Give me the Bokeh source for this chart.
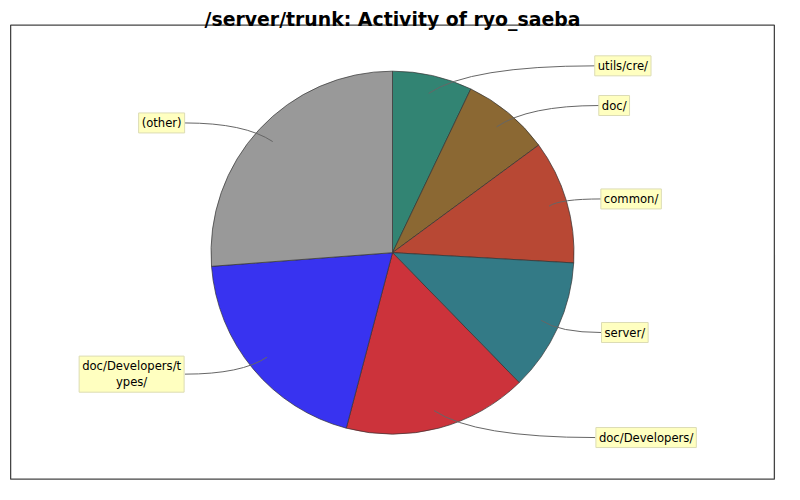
import numpy as np
from bokeh.plotting import figure
from bokeh.models import ColumnDataSource, Range1d
from bokeh.core.properties import value
from bokeh.embed import file_html
from bokeh.resources import INLINE

# ---- data (clockwise from 12 o'clock) ----
categories = ["utils/cre/", "doc/", "common/", "server/", "doc/Developers/",
              "doc/Developers/types/", "(other)"]
shares = [7.1, 7.8, 11.0, 11.8, 16.4, 19.7, 26.2]
label_texts = ["utils/cre/", "doc/", "common/", "server/", "doc/Developers/",
               "doc/Developers/t\nypes/", "(other)"]
colors = ["#328473", "#8B6833", "#B84834", "#337A86", "#CC333B", "#3833F0", "#999999"]
title_text = "/server/trunk: Activity of ryo_saeba"

# ---- layout: reference-image pixel coordinates (800x500, y downward) ----
REF_W, REF_H = 800, 500
FIG_W, FIG_H = 784, 484
S = min(FIG_W / REF_W, FIG_H / REF_H)          # uniform scale
half_w = FIG_W / S / 2
CX, CY, R = 400.0, 260.5, 187.5
label_pos = [(638, 67.5), (629, 108.5), (646.5, 205), (640, 343),
             (662, 451.5), (130.5, 386), (161.5, 126.5)]
label_edge = [609.5, 613.5, 616, 616, 609.5, 185.5, 185.5]


def Y(py):
    return REF_H - np.asarray(py, dtype=float)


def px(n):
    return f"{n * S:.2f}px"


p = figure(width=FIG_W, height=FIG_H, output_backend="svg", toolbar_location=None,
           x_range=Range1d(REF_W / 2 - half_w, REF_W / 2 + half_w),
           y_range=Range1d(0, FIG_H / S),
           min_border=0, outline_line_color=None)
p.axis.visible = False
p.grid.visible = False
p.background_fill_color = "white"
p.border_fill_color = "white"

# frame
p.quad(left=[5.5], right=[794.5], top=[Y(25.5)], bottom=[Y(494.5)],
       fill_color=None, line_color="#444444", line_width=1.3)

# title
p.text(x=[400], y=[Y(19.5)], text=[title_text], text_align="center",
       text_baseline="alphabetic", text_font=value("DejaVu Sans"),
       text_font_style="bold", text_font_size=px(19.5), text_color="black")

# pie
vals = np.array(shares, dtype=float)
frac = vals / vals.sum()
cum_end = np.cumsum(frac)
cum_start = cum_end - frac
start_angle = np.pi / 2 - 2 * np.pi * cum_end
end_angle = np.pi / 2 - 2 * np.pi * cum_start
src = ColumnDataSource(dict(cat=categories, val=vals, color=colors,
                            start=start_angle, end=end_angle))
p.wedge(x=CX, y=Y(CY), radius=R, start_angle="start", end_angle="end",
        fill_color="color", line_color="#333333", line_width=0.7, source=src)

# leader curves (quadratic, from inside the slice to the label box)
mid = (start_angle + end_angle) / 2
x0 = CX + 0.9 * R * np.cos(mid)
y0 = Y(CY) + 0.9 * R * np.sin(mid)
lx = np.array(label_edge, dtype=float)
ly = Y([q[1] for q in label_pos])
side = np.sign(lx - CX)
cx = x0 + side * 1.5 * np.abs(ly - y0)
cy = ly
p.quadratic(x0=x0, y0=y0, x1=lx, y1=ly, cx=cx, cy=cy,
            line_color="#666666", line_width=1)

# labels
p.text(x=[q[0] for q in label_pos], y=Y([q[1] for q in label_pos]), text=label_texts,
       text_align="center", text_baseline="middle", text_font=value("DejaVu Sans"),
       text_font_size=px(12), text_color="black", text_line_height=1.15,
       background_fill_color="#FFFFC0", border_line_color="#DCDCB4",
       padding=3)

open("out.html", "w").write(file_html(p, INLINE))
